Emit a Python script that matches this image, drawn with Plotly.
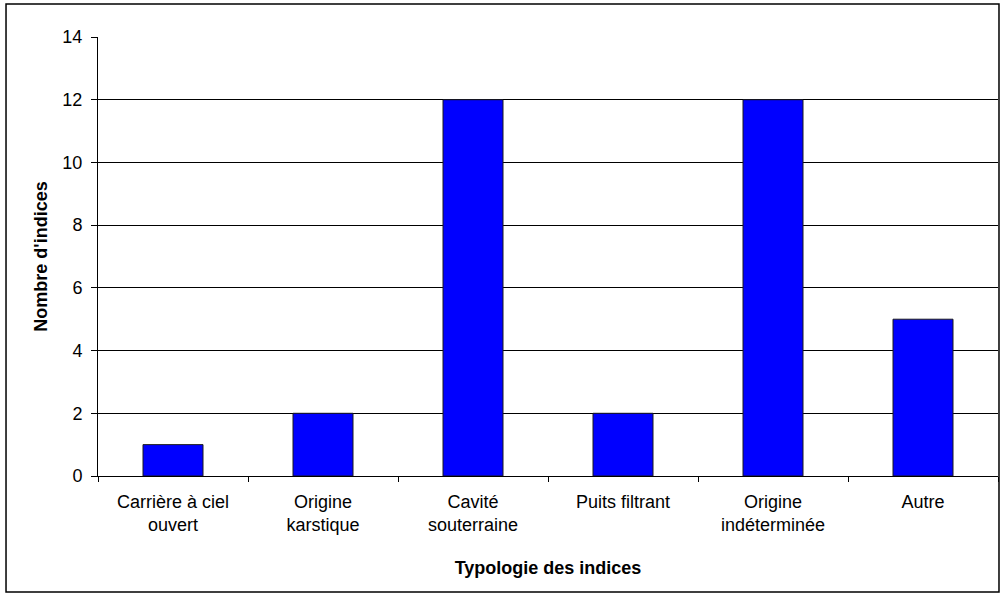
import plotly.graph_objects as go

categories = ["Carrière à ciel<br>ouvert", "Origine<br>karstique", "Cavité<br>souterraine",
              "Puits filtrant", "Origine<br>indéterminée", "Autre"]
counts = [1, 2, 12, 2, 12, 5]
y_ticks = [0, 2, 4, 6, 8, 10, 12, 14]

FONT = "Liberation Sans, Arial, sans-serif"

fig = go.Figure(go.Bar(
    x=categories, y=counts,
    marker=dict(color="#0000FF", line=dict(color="#1a1a1a", width=1)),
    width=0.4,
))

fig.update_layout(
    width=1000, height=597,
    paper_bgcolor="white", plot_bgcolor="white",
    margin=dict(l=98, r=2, t=37, b=121),
    font=dict(family=FONT, size=18, color="black"),
    showlegend=False,
)

fig.update_xaxes(
    showline=True, linecolor="black", linewidth=1,
    ticks="outside", tickson="boundaries", ticklen=5, tickcolor="black",
    tickfont=dict(size=18), ticklabelstandoff=9,
    title=dict(text="<b>Typologie des indices</b>", font=dict(size=18), standoff=27),
)
fig.update_yaxes(
    range=[0, 14], tickvals=y_ticks,
    showline=True, linecolor="black", linewidth=1,
    ticks="outside", ticklen=6, tickcolor="black",
    showgrid=True, gridcolor="black", gridwidth=1,
    zeroline=False,
    tickfont=dict(size=18), ticklabelstandoff=5,
    title=dict(text="<b>Nombre d'indices</b>", font=dict(size=18), standoff=10),
)

# border around the whole chart
fig.add_shape(type="rect", xref="paper", yref="paper",
              x0=-0.1022, x1=1.0011, y0=-0.2642, y1=1.0752,
              line=dict(color="black", width=1.5))

fig.write_html("out.html", config={"displayModeBar": False},
               post_script="document.body.style.margin='0';")
